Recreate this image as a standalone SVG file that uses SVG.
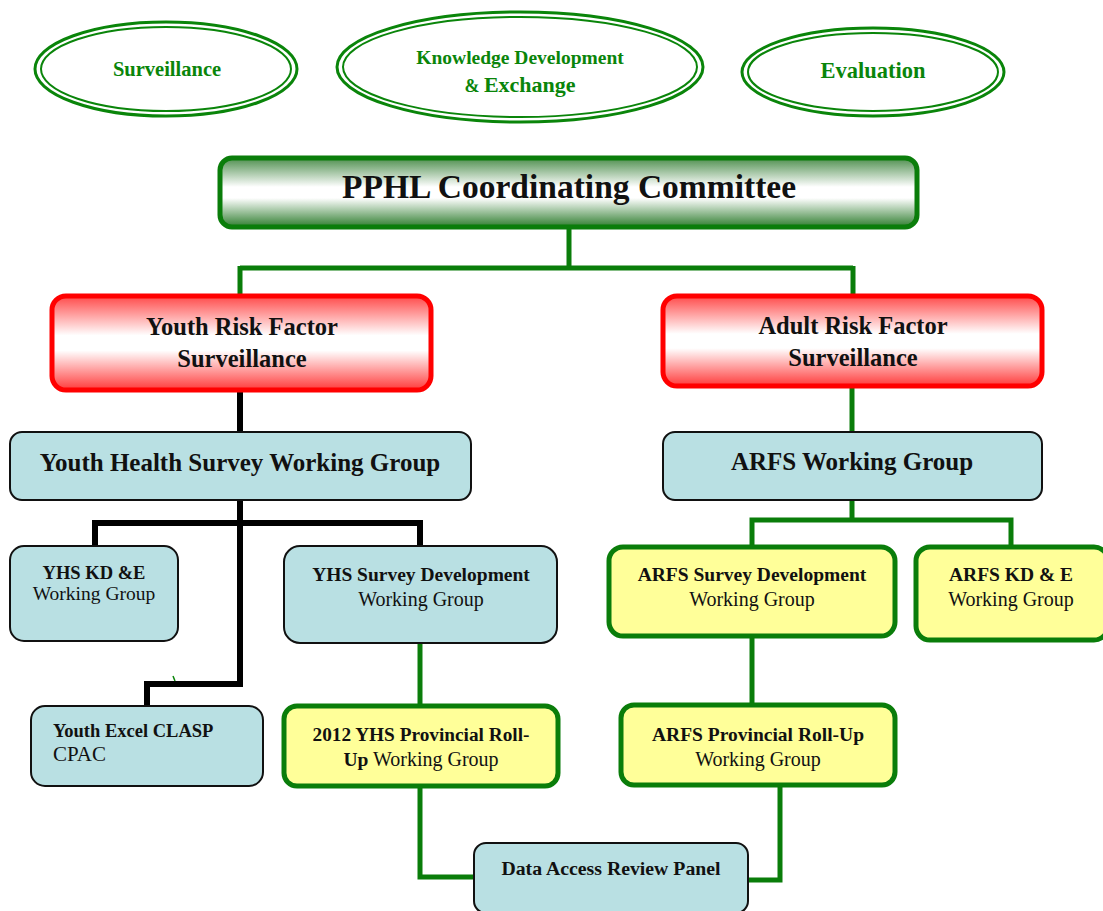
<svg xmlns="http://www.w3.org/2000/svg" width="1103" height="911" viewBox="0 0 1103 911">
<defs>
<linearGradient id="gGreen" x1="0" y1="0" x2="0" y2="1">
<stop offset="0" stop-color="#4f8f4f"/>
<stop offset="0.42" stop-color="#ffffff"/>
<stop offset="0.58" stop-color="#ffffff"/>
<stop offset="1" stop-color="#2f7d2f"/>
</linearGradient>
<linearGradient id="gRed" x1="0" y1="0" x2="0" y2="1">
<stop offset="0" stop-color="#ff4a4a"/>
<stop offset="0.42" stop-color="#ffffff"/>
<stop offset="0.58" stop-color="#ffffff"/>
<stop offset="1" stop-color="#ff3a3a"/>
</linearGradient>
</defs>
<style>
text{font-family:"Liberation Serif","Times New Roman",serif;text-anchor:middle;}
.oval-o{fill:#fff;stroke:#0a850a;stroke-width:3;}
.oval-i{fill:none;stroke:#0a850a;stroke-width:2;}
.ot{fill:#0a850a;font-weight:bold;}
.blue{fill:#b9e0e3;stroke:#111;stroke-width:2;}
.yel{fill:#ffff99;stroke:#0a7d0a;stroke-width:5;}
.redb{fill:url(#gRed);stroke:#ff0000;stroke-width:5;}
.grnb{fill:url(#gGreen);stroke:#0a7d0a;stroke-width:5;}
.b{font-weight:bold;fill:#111;}
.r{font-weight:normal;fill:#111;}
.cg{fill:none;stroke:#0a7d0a;stroke-width:5;}
.ck{fill:none;stroke:#000;stroke-width:6;}
</style>
<g id="connectors">
<path class="cg" d="M569,227 V268 M240,268 H853 M240,266 V295 M853,266 V295"/>
<path class="ck" d="M240,390 V432"/>
<path class="cg" d="M852,386 V432"/>
<path class="ck" d="M240,500 V684 H147 V706 M95,546 V523 H420 V546"/>
<path class="cg" d="M852,500 V520 M752,546 V520 H1011 V546"/>
<path class="cg" d="M420,643 V705"/>
<path class="cg" d="M752,637 V704"/>
<path class="cg" d="M420,786 V877 H474"/>
<path class="cg" d="M780,786 V880 H748"/>
<path d="M173,676 L175,681" stroke="#0a850a" stroke-width="1.5" fill="none"/>
</g>
<g id="oval-surveillance">
<ellipse class="oval-o" cx="166" cy="69" rx="131" ry="47"/>
<ellipse class="oval-i" cx="166" cy="69" rx="125" ry="42"/>
<text class="ot" x="167" y="76" font-size="20.5">Surveillance</text>
</g>
<g id="oval-kde">
<ellipse class="oval-o" cx="520" cy="67" rx="183" ry="55"/>
<ellipse class="oval-i" cx="520" cy="67" rx="177" ry="50"/>
<text class="ot" x="520" y="64" font-size="19.5">Knowledge Development</text>
<text class="ot" x="520" y="92"><tspan font-size="18">&amp; </tspan><tspan font-size="22">Exchange</tspan></text>
</g>
<g id="oval-evaluation">
<ellipse class="oval-o" cx="873" cy="72" rx="131" ry="44"/>
<ellipse class="oval-i" cx="873" cy="72" rx="125" ry="39"/>
<text class="ot" x="873" y="78" font-size="22.5">Evaluation</text>
</g>
<g id="pphl">
<rect class="grnb" x="220" y="158" width="697" height="69" rx="12"/>
<text class="b" x="569" y="198" font-size="33.5">PPHL Coordinating Committee</text>
</g>
<g id="youth-risk">
<rect class="redb" x="52" y="296" width="379" height="94" rx="14"/>
<text class="b" x="242" y="335" font-size="24.5">Youth Risk Factor</text>
<text class="b" x="242" y="367" font-size="24.5">Surveillance</text>
</g>
<g id="adult-risk">
<rect class="redb" x="663" y="296" width="379" height="90" rx="14"/>
<text class="b" x="853" y="334" font-size="24.5">Adult Risk Factor</text>
<text class="b" x="853" y="366" font-size="24.5">Surveillance</text>
</g>
<g id="yhs-wg">
<rect class="blue" x="10" y="432" width="461" height="68" rx="12"/>
<text class="b" x="240" y="471" font-size="25">Youth Health Survey Working Group</text>
</g>
<g id="arfs-wg">
<rect class="blue" x="663" y="432" width="379" height="68" rx="12"/>
<text class="b" x="852" y="470" font-size="25">ARFS Working Group</text>
</g>
<g id="yhs-kde">
<rect class="blue" x="10" y="546" width="168" height="95" rx="14"/>
<text class="b" x="94" y="579" font-size="18.5">YHS KD &amp;E</text>
<text class="r" x="94" y="600" font-size="19.5">Working Group</text>
</g>
<g id="yhs-survey-dev">
<rect class="blue" x="284" y="546" width="273" height="97" rx="16"/>
<text class="b" x="421" y="581" font-size="19.5">YHS Survey Development</text>
<text class="r" x="421" y="606" font-size="20">Working Group</text>
</g>
<g id="youth-excel">
<rect class="blue" x="31" y="706" width="232" height="80" rx="14"/>
<text class="b" x="53" y="737" font-size="18.5" style="text-anchor:start">Youth Excel CLASP</text>
<text class="r" x="53" y="761" font-size="21" style="text-anchor:start">CPAC</text>
</g>
<g id="yhs-rollup">
<rect class="yel" x="284" y="706" width="274" height="80" rx="13"/>
<text class="b" x="421" y="741" font-size="19.3">2012 YHS Provincial Roll-</text>
<text class="b" x="421" y="766" font-size="19.5">Up<tspan class="r" font-size="20"> Working Group</tspan></text>
</g>
<g id="arfs-survey-dev">
<rect class="yel" x="609" y="547" width="286" height="89" rx="14"/>
<text class="b" x="752" y="581" font-size="19.5">ARFS Survey Development</text>
<text class="r" x="752" y="606" font-size="20">Working Group</text>
</g>
<g id="arfs-kde">
<rect class="yel" x="916" y="547" width="192" height="93" rx="14"/>
<text class="b" x="1011" y="581" font-size="19.5">ARFS KD &amp; E</text>
<text class="r" x="1011" y="606" font-size="20">Working Group</text>
</g>
<g id="arfs-rollup">
<rect class="yel" x="621" y="705" width="274" height="80" rx="13"/>
<text class="b" x="758" y="741" font-size="19.5">ARFS Provincial Roll-Up</text>
<text class="r" x="758" y="766" font-size="20">Working Group</text>
</g>
<g id="darp">
<rect class="blue" x="474" y="843" width="274" height="70" rx="12"/>
<text class="b" x="611" y="875" font-size="19.8">Data Access Review Panel</text>
</g>
</svg>
